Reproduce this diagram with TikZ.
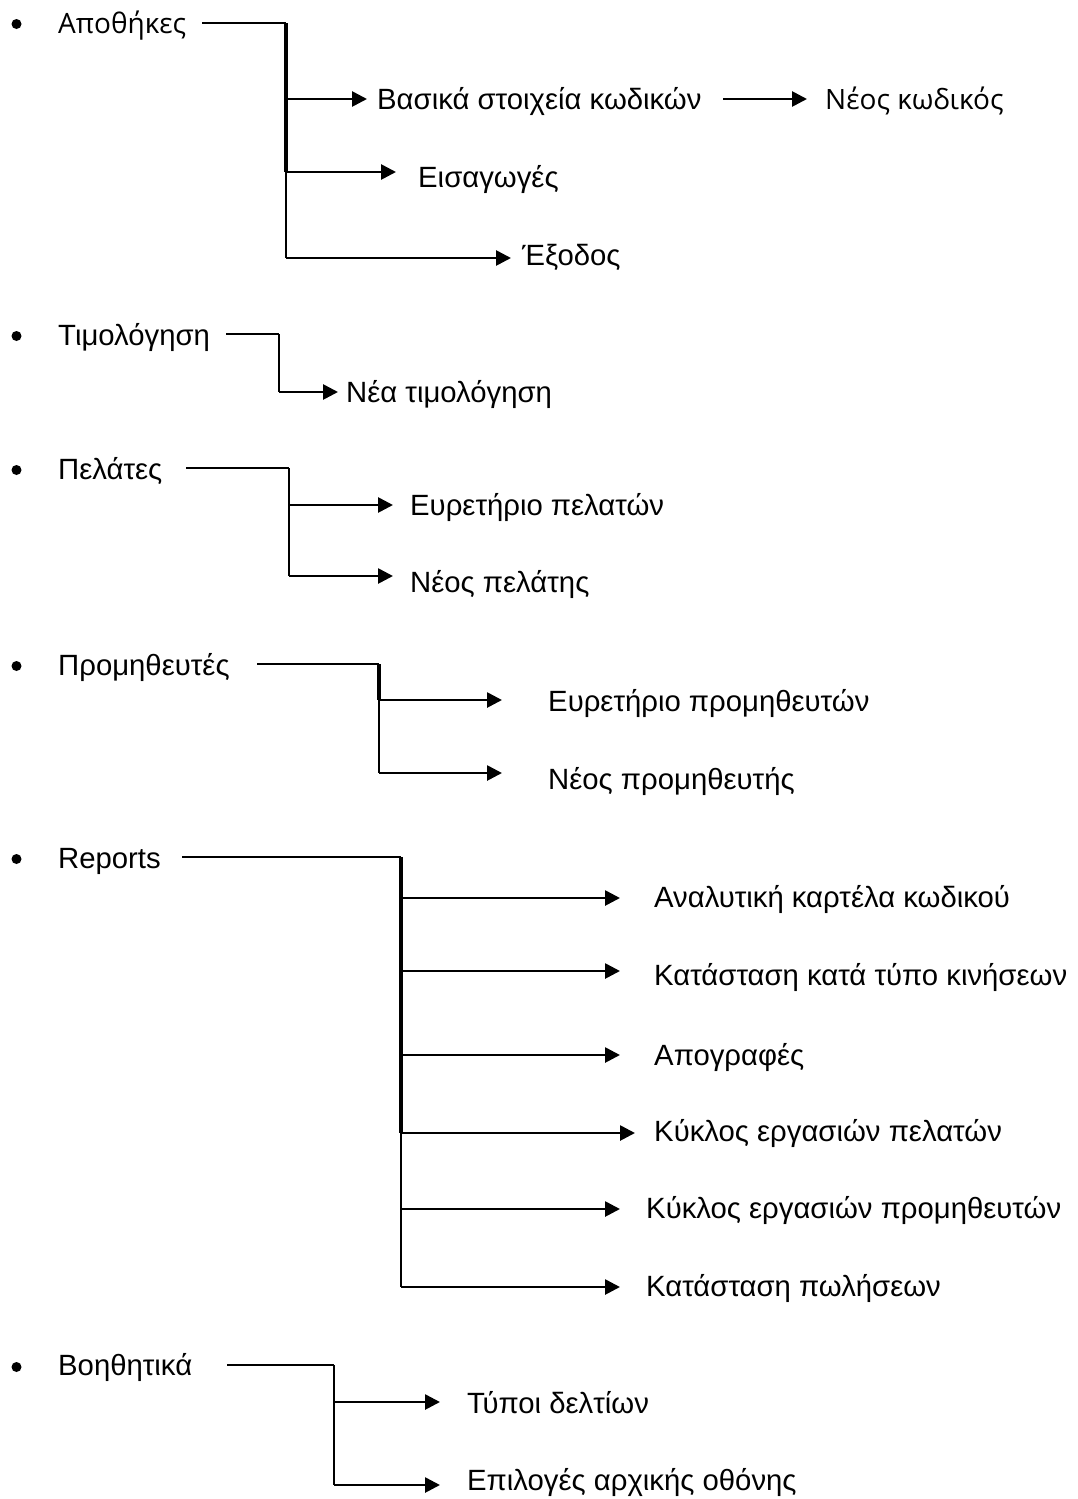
\documentclass[tikz,border=0pt]{standalone}
\usepackage{fontspec}
\setmainfont{Liberation Sans}
\newfontfamily\altfont{Open Sans}
\usetikzlibrary{arrows.meta}
\begin{document}
\begin{tikzpicture}[x=1pt,y=-1pt,
  lbl/.style={anchor=base west,inner sep=0pt,font=\fontsize{29.3}{34}\selectfont},
  bul/.style={circle,fill=black,inner sep=0pt,minimum size=10pt},
  ln/.style={line width=2.9pt},
  thk/.style={line width=4.5pt},
  arr/.style={line width=2.7pt,-{Triangle[length=15pt,width=15pt]}}]
\useasboundingbox (0,0) rectangle (1077,1499);
% ---------- Αποθήκες
\node[bul] (b1) at (16.5,24) {};
\node[lbl,font=\altfont\fontsize{28}{34}\selectfont] (h1) at (58,33) {Αποθήκες};
\node[lbl] (c11) at (377,109) {Βασικά στοιχεία κωδικών};
\node[lbl,font=\altfont\fontsize{28}{34}\selectfont] (c12) at (825,109) {Νέος κωδικός};
\node[lbl] (c13) at (418,187) {Εισαγωγές};
\node[lbl] (c14) at (522,265) {Έξοδος};
\coordinate (s1) at (202,23);
\coordinate (j1) at (286,23);
\draw[ln] (s1) -- (j1);
\draw[thk] (j1) -- (286,172);
\draw[ln] (j1) -- (286,258);
\draw[arr] (286,99) -- (367,99);
\draw[arr] (286,172) -- (396,172);
\draw[arr] (286,258) -- (511,258);
\draw[arr] (723,99) -- (807,99);
% ---------- Τιμολόγηση
\node[bul] (b2) at (16.5,336) {};
\node[lbl] (h2) at (58,345) {Τιμολόγηση};
\node[lbl] (c21) at (346,402) {Νέα τιμολόγηση};
\coordinate (j2) at (279,334);
\draw[ln] (226,334) -- (j2);
\draw[ln] (j2) -- (279,392);
\draw[arr] (279,392) -- (338,392);
% ---------- Πελάτες
\node[bul] (b3) at (16.5,470) {};
\node[lbl] (h3) at (58,479) {Πελάτες};
\node[lbl] (c31) at (410,515) {Ευρετήριο πελατών};
\node[lbl] (c32) at (410,592) {Νέος πελάτης};
\coordinate (j3) at (289,468);
\draw[ln] (186,468) -- (j3);
\draw[ln] (j3) -- (289,576);
\draw[arr] (289,505) -- (393,505);
\draw[arr] (289,576) -- (393,576);
% ---------- Προμηθευτές
\node[bul] (b4) at (16.5,666) {};
\node[lbl] (h4) at (58,675) {Προμηθευτές};
\node[lbl] (c41) at (548,711) {Ευρετήριο προμηθευτών};
\node[lbl] (c42) at (548,789) {Νέος προμηθευτής};
\coordinate (j4) at (379,664);
\draw[ln] (257,664) -- (j4);
\draw[thk] (j4) -- (379,700);
\draw[ln] (j4) -- (379,773);
\draw[arr] (379,700) -- (502,700);
\draw[arr] (379,773) -- (502,773);
% ---------- Reports
\node[bul] (b5) at (16.5,859) {};
\node[lbl] (h5) at (58,868) {Reports};
\node[lbl] (c51) at (654,907) {Αναλυτική καρτέλα κωδικού};
\node[lbl] (c52) at (654,985) {Κατάσταση κατά τύπο κινήσεων};
\node[lbl] (c53) at (654,1065) {Απογραφές};
\node[lbl] (c54) at (654,1141) {Κύκλος εργασιών πελατών};
\node[lbl] (c55) at (646,1218) {Κύκλος εργασιών προμηθευτών};
\node[lbl] (c56) at (646,1296) {Κατάσταση πωλήσεων};
\coordinate (j5) at (401,857);
\draw[ln] (182,857) -- (j5);
\draw[thk] (j5) -- (401,1133);
\draw[ln] (j5) -- (401,1287);
\draw[arr] (401,898) -- (620,898);
\draw[arr] (401,971) -- (620,971);
\draw[arr] (401,1055) -- (620,1055);
\draw[arr] (401,1133) -- (635,1133);
\draw[arr] (401,1209) -- (620,1209);
\draw[arr] (401,1287) -- (620,1287);
% ---------- Βοηθητικά
\node[bul] (b6) at (16.5,1367) {};
\node[lbl] (h6) at (58,1375) {Βοηθητικά};
\node[lbl] (c61) at (467,1413) {Τύποι δελτίων};
\node[lbl] (c62) at (467,1490) {Επιλογές αρχικής οθόνης};
\coordinate (j6) at (334,1365);
\draw[ln] (227,1365) -- (j6);
\draw[ln] (j6) -- (334,1485);
\draw[arr] (334,1402) -- (440,1402);
\draw[arr] (334,1485) -- (440,1485);
\end{tikzpicture}
\end{document}
